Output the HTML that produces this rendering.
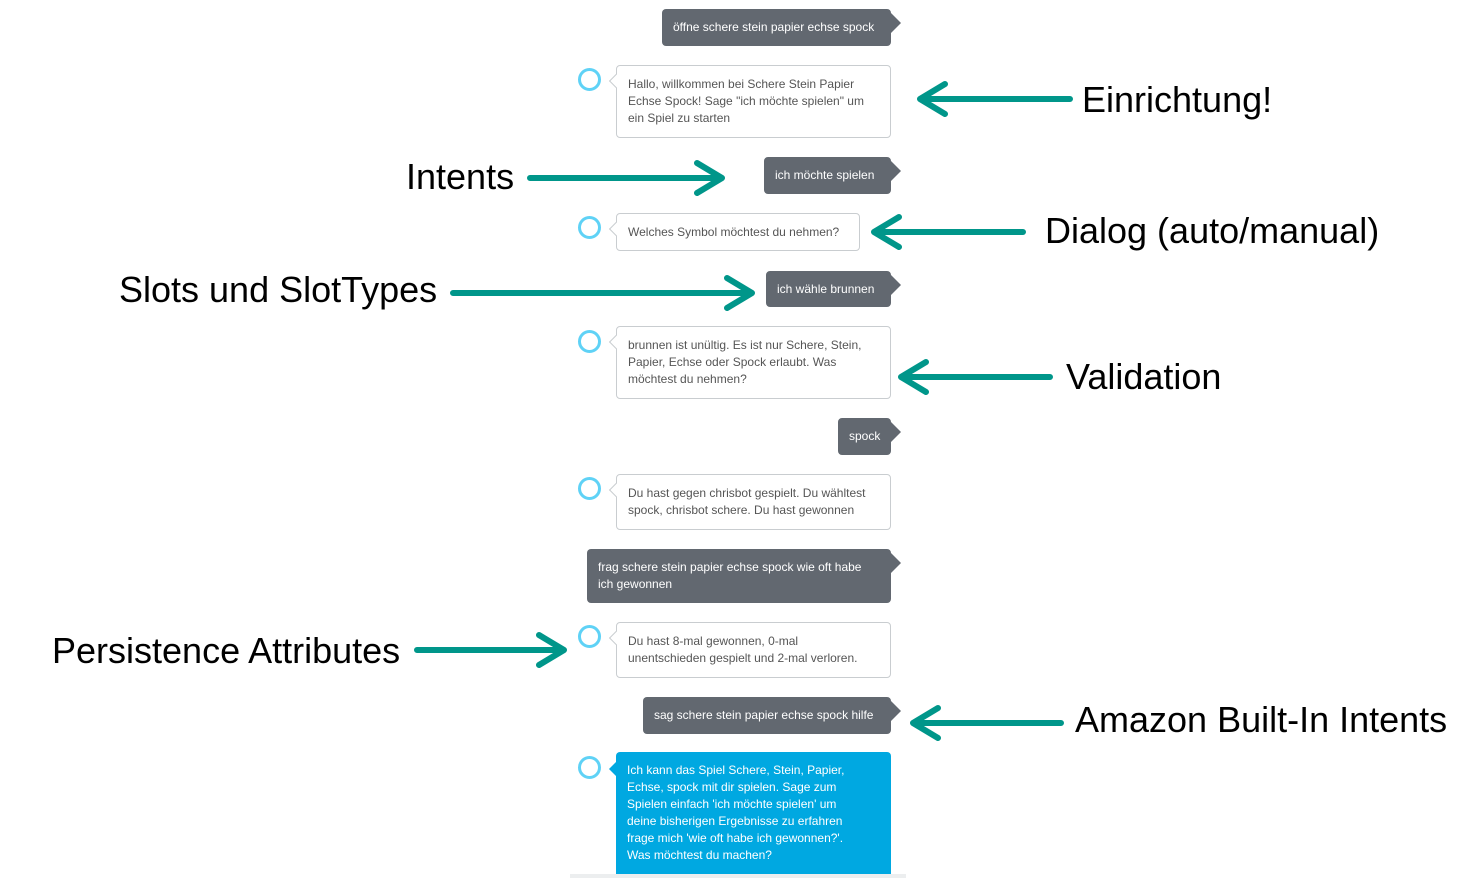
<!DOCTYPE html>
<html><head><meta charset="utf-8"><style>
body{margin:0;width:1474px;height:879px;background:#fff;position:relative;overflow:hidden;font-family:"Liberation Sans",sans-serif}
.b{position:absolute;box-sizing:border-box;border-radius:4px;font-size:12px;line-height:17px;padding:10px 11px}
.d{background:#626870;color:#fff;padding:10px 11px}
.d:after{content:"";position:absolute;right:-10px;top:4px;width:10px;height:20px;background:#626870;clip-path:polygon(0 0,100% 50%,0 100%)}
.w{background:#fff;border:1px solid #c9cdd0;color:#555}
.w:before{content:"";position:absolute;left:-6px;top:10px;width:9px;height:9px;background:#fff;border-left:1px solid #c9cdd0;border-bottom:1px solid #c9cdd0;transform:rotate(45deg)}
.bl{background:#00a8e1;color:#fff;border-radius:4px 4px 0 0;white-space:nowrap}
.bl:before{content:"";position:absolute;left:-7px;top:10px;width:7px;height:14px;background:#00a8e1;clip-path:polygon(100% 0,0 50%,100% 100%)}
.c{position:absolute;width:17px;height:17px;border:3px solid #5fd2f6;border-radius:50%;left:578px}
.t{position:absolute;font-size:36px;color:#000;line-height:40px;white-space:nowrap}
</style></head><body>
<div class="b d" style="left:662px;top:9px;width:229px;height:37px">öffne schere stein papier echse spock</div>
<div class="c" style="top:68px"></div>
<div class="b w" style="left:616px;top:65px;width:275px;height:73px">Hallo, willkommen bei Schere Stein Papier Echse Spock! Sage "ich möchte spielen" um ein Spiel zu starten</div>
<div class="b d" style="left:764px;top:157px;width:127px;height:37px">ich möchte spielen</div>
<div class="c" style="top:216px"></div>
<div class="b w" style="left:616px;top:213px;width:244px;height:38px">Welches Symbol möchtest du nehmen?</div>
<div class="b d" style="left:766px;top:271px;width:125px;height:36px">ich wähle brunnen</div>
<div class="c" style="top:330px"></div>
<div class="b w" style="left:616px;top:326px;width:275px;height:73px">brunnen ist unültig. Es ist nur Schere, Stein, Papier, Echse oder Spock erlaubt. Was möchtest du nehmen?</div>
<div class="b d" style="left:838px;top:418px;width:53px;height:37px">spock</div>
<div class="c" style="top:477px"></div>
<div class="b w" style="left:616px;top:474px;width:275px;height:56px">Du hast gegen chrisbot gespielt. Du wähltest spock, chrisbot schere. Du hast gewonnen</div>
<div class="b d" style="left:587px;top:549px;width:304px;height:54px">frag schere stein papier echse spock wie oft habe ich gewonnen</div>
<div class="c" style="top:625px"></div>
<div class="b w" style="left:616px;top:622px;width:275px;height:56px">Du hast 8-mal gewonnen, 0-mal unentschieden gespielt und 2-mal verloren.</div>
<div class="b d" style="left:643px;top:697px;width:248px;height:37px">sag schere stein papier echse spock hilfe</div>
<div class="c" style="top:756px"></div>
<div class="b bl" style="left:616px;top:752px;width:275px;height:122px">Ich kann das Spiel Schere, Stein, Papier,<br>Echse, spock mit dir spielen. Sage zum<br>Spielen einfach 'ich möchte spielen' um<br>deine bisherigen Ergebnisse zu erfahren<br>frage mich 'wie oft habe ich gewonnen?'.<br>Was möchtest du machen?</div>
<div style="position:absolute;left:570px;top:874px;width:336px;height:4px;background:#eceeef"></div>
<svg style="position:absolute;left:0;top:0" width="1474" height="879" fill="none" stroke="#00968a" stroke-width="6" stroke-linecap="round" stroke-linejoin="round">
<path d="M1070 99H920M945 84L920 99L945 114"/>
<path d="M530 178H722M697 163L722 178L697 193"/>
<path d="M1023 232H874M899 217L874 232L899 247"/>
<path d="M453 293H752M727 278L752 293L727 308"/>
<path d="M1050 377H901M926 362L901 377L926 392"/>
<path d="M417 650H564M539 635L564 650L539 665"/>
<path d="M1061 723H913M938 708L913 723L938 738"/>
</svg>
<div class="t" style="left:1082px;top:80px">Einrichtung!</div>
<div class="t" style="left:406px;top:157px">Intents</div>
<div class="t" style="left:1045px;top:211px">Dialog (auto/manual)</div>
<div class="t" style="left:119px;top:270px">Slots und SlotTypes</div>
<div class="t" style="left:1066px;top:357px">Validation</div>
<div class="t" style="left:52px;top:631px">Persistence Attributes</div>
<div class="t" style="left:1075px;top:700px">Amazon Built-In Intents</div>
</body></html>
